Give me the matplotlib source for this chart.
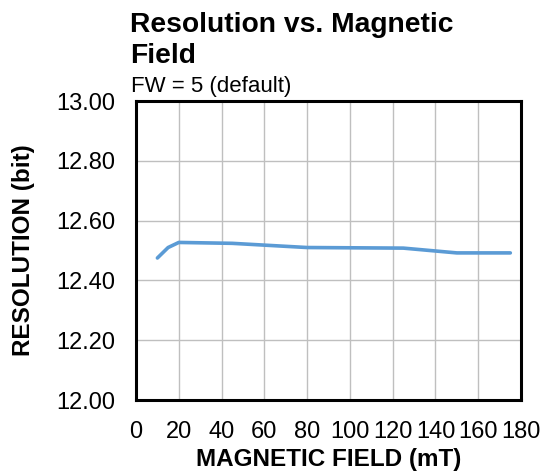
import numpy as np
import matplotlib.pyplot as plt

plt.rcParams['font.family'] = ['Liberation Sans', 'DejaVu Sans']

# magnetic field (mT) and resolution (bit)
field = [10, 15, 20, 45, 80, 125, 150, 175]
resolution = [12.475, 12.51, 12.527, 12.524, 12.51, 12.508, 12.492, 12.492]

xticks = np.arange(0, 181, 20)
yticks = np.arange(12.0, 13.01, 0.2)

fig = plt.figure(figsize=(5.43, 4.72), dpi=100)
ax = fig.add_axes([0.2505, 0.1525, 0.709, 0.6335])

ax.plot(field, resolution, color='#5B9BD5', linewidth=2.6, solid_capstyle='round')

ax.set_xlim(0, 180)
ax.set_ylim(12.0, 13.0)
ax.set_xticks(xticks)
ax.set_yticks(yticks)
ax.set_yticklabels(["%.2f" % v for v in yticks])
ax.tick_params(length=0, labelsize=17, pad=15)
ax.grid(True, color='#BFBFBF', linewidth=1)
ax.set_axisbelow(True)
for s in ax.spines.values():
    s.set_linewidth(2.2)
    s.set_color('black')

ax.set_xlabel('MAGNETIC FIELD (mT)', fontsize=17.5, fontweight='bold', labelpad=4)
ax.set_ylabel('RESOLUTION (bit)', fontsize=17.5, fontweight='bold', labelpad=15)

fig.text(130 / 543, 1 - 32 / 472, 'Resolution vs. Magnetic', fontsize=20.3, fontweight='bold', va='baseline')
fig.text(130 / 543, 1 - 63 / 472, 'Field', fontsize=20.3, fontweight='bold', va='baseline')
fig.text(131 / 543, 1 - 92 / 472, 'FW = 5 (default)', fontsize=16, va='baseline')

fig.savefig('out.png', dpi=100)
